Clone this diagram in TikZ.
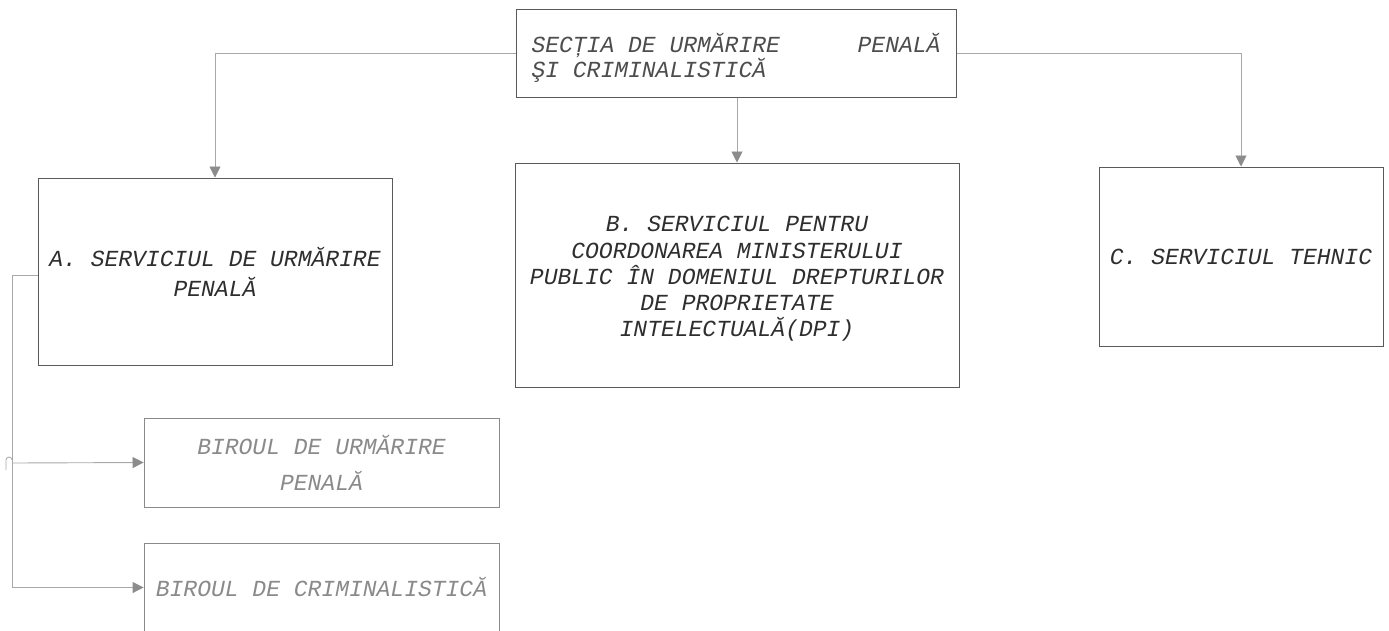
\documentclass[tikz,border=0pt]{standalone}
\usepackage{fontspec}
\setmonofont{Liberation Mono}
\usetikzlibrary{arrows.meta}
\definecolor{boxline}{HTML}{5A5A5A}
\definecolor{lightline}{HTML}{8A8A8A}
\definecolor{connline}{HTML}{A8A8A8}
\definecolor{tipcol}{HTML}{8C8C8C}
\definecolor{maintext}{HTML}{2E2E2E}
\definecolor{lighttext}{HTML}{8A8A8A}
\begin{document}
\begin{tikzpicture}[x=1pt,y=-1pt,
  mainbox/.style={draw=boxline, line width=1pt, rectangle, inner sep=0pt, text=maintext,
    font=\ttfamily\itshape\fontsize{23}{30}\selectfont, align=center},
  subbox/.style={draw=lightline, line width=0.9pt, rectangle, inner sep=0pt, text=lighttext,
    font=\ttfamily\itshape\fontsize{23}{36}\selectfont, align=center},
  conn/.style={draw=connline, line width=0.9pt},
  arr/.style={conn, -{Triangle[length=11pt,width=11pt,fill=tipcol,color=tipcol]}}
]
\useasboundingbox (0,0) rectangle (1389,630);
\fill[white] (0,0) rectangle (1389,630);
\clip (0,0) rectangle (1389,630);

% top box
\node[draw=boxline, line width=1pt, rectangle, inner sep=0pt, minimum width=440pt, minimum height=88pt, text=maintext!85!white,
  font=\ttfamily\itshape\fontsize{23}{25}\selectfont] (top) at (736,53)
  {\parbox[c][80pt][c]{409pt}{\vspace{10pt}SECȚIA DE URMĂRIRE\hfill PENALĂ\\ŞI CRIMINALISTICĂ\par}};

% level 2
\node[mainbox, minimum width=354pt, minimum height=187pt] (A) at (215,271.5)
  {A. SERVICIUL DE URMĂRIRE\\PENALĂ};
\node[mainbox, minimum width=444pt, minimum height=224pt, font=\ttfamily\itshape\fontsize{23}{26.3}\selectfont] (B) at (737,275)
  {\parbox[c][200pt][c]{440pt}{\centering\vspace{8pt}B. SERVICIUL PENTRU\\COORDONAREA MINISTERULUI\\PUBLIC ÎN DOMENIUL DREPTURILOR\\DE PROPRIETATE\\INTELECTUALĂ(DPI)\par}};
\node[mainbox, minimum width=284pt, minimum height=179pt] (C) at (1241,256.5)
  {C. SERVICIUL TEHNIC};

% level 3
\node[subbox, minimum width=355pt, minimum height=89pt] (BUP) at (321.5,462.5)
  {BIROUL DE URMĂRIRE\\PENALĂ};
\node[subbox, minimum width=355pt, minimum height=89pt] (BCR) at (321.5,587.5)
  {BIROUL DE CRIMINALISTICĂ};

% connectors
\coordinate (tl) at (A.north |- top.west);
\coordinate (tr) at (C.north |- top.east);
\draw[arr] (top.west) -- (tl) -- (A.north);
\draw[arr] (top.east) -- (tr) -- (C.north);
\draw[arr] (top.south -| B.north) -- (B.north);

\coordinate (aw) at (A.west |- 0,275);
\coordinate (lc) at (12,275);
\coordinate (hop) at (12,463);
\coordinate (lb) at (12,587.5);
\draw[conn] (aw) -- (lc) -- (lb);
\draw[arr] (lb) -- (BCR.west);
\draw[arr] (hop) -- (BUP.west);
\draw[conn, line width=0.8pt] (12,460) arc[start angle=0, end angle=180, radius=3pt] -- (6,470);
\end{tikzpicture}
\end{document}
